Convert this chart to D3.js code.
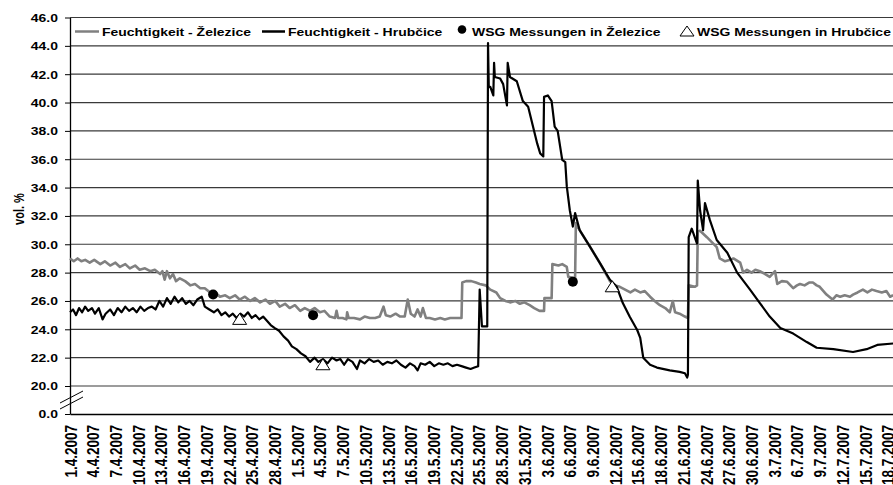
<!DOCTYPE html>
<html><head><meta charset="utf-8">
<script src="https://cdn.jsdelivr.net/npm/d3@7"></script>
<style>
html,body{margin:0;padding:0;background:#fff;}
svg{display:block;}
text{font-family:"Liberation Sans",Arial,sans-serif;font-weight:bold;fill:#000;}
</style></head>
<body>
<svg id="chart" width="893" height="485"></svg>
<script>
// ---- data (day offset from 1.4.2007, value vol.%) ----
const zelesice = [[0,29.0],[0.5,28.8],[1,29.0],[1.5,28.8],[2,28.9],[2.6,28.7],[3.2,28.9],[4,28.6],[4.6,28.8],[5.3,28.5],[6,28.7],[6.6,28.4],[7.3,28.6],[7.9,28.3],[8.6,28.5],[9.2,28.2],[9.9,28.3],[10.6,28.1],[11.2,28.2],[11.9,27.9],[12.2,28.1],[12.5,27.5],[12.8,28.1],[13.2,27.6],[13.6,27.9],[14.0,27.4],[14.5,27.6],[15.2,27.4],[15.9,27.1],[16.5,27.2],[17.2,26.9],[17.8,26.9],[18.5,26.6],[19.2,26.6],[19.8,26.3],[20.5,26.4],[21.1,26.2],[21.8,26.4],[22.4,26.1],[23.1,26.3],[23.8,26.0],[24.4,26.2],[25.1,25.9],[25.8,26.1],[26.4,25.8],[27.1,26.0],[27.7,25.6],[28.4,25.8],[29.0,25.5],[29.7,25.7],[30.4,25.3],[31.0,25.5],[31.7,25.3],[32.3,25.5],[33.0,25.2],[33.6,25.3],[34.3,24.9],[35.0,24.8],[35.2,25.3],[35.4,24.8],[36.0,24.8],[36.5,24.7],[36.6,25.2],[36.8,24.8],[37.5,24.8],[38.3,24.7],[38.9,24.9],[39.6,24.8],[40.3,24.8],[40.9,24.9],[41.4,25.6],[41.7,25.0],[42.3,24.9],[43.0,25.1],[43.6,24.9],[44.2,24.9],[44.6,26.1],[45.0,25.1],[45.5,24.9],[45.9,25.4],[46.3,24.9],[46.6,25.5],[47.0,24.8],[47.5,24.8],[48.2,24.7],[48.9,24.8],[49.5,24.7],[50.2,24.8],[50.8,24.8],[51.7,24.8],[51.8,27.3],[52.3,27.4],[53.0,27.4],[53.6,27.3],[54.1,27.2],[54.9,27.1],[55.5,26.8],[56.3,26.6],[56.8,26.2],[57.5,26.0],[58.2,25.9],[58.8,26.0],[59.4,25.8],[60.0,25.9],[60.7,25.7],[61.3,25.5],[62.0,25.3],[62.6,25.3],[62.65,26.2],[63.6,26.2],[63.7,28.6],[64.5,28.5],[65.0,28.6],[65.6,28.4],[65.8,27.7],[66.7,27.6],[66.8,31.5],[67.3,31.0],[68.7,29.8],[70.0,28.65],[71.3,27.4],[72.0,27.1],[72.6,27.0],[73.3,26.8],[74.0,26.6],[74.6,26.8],[75.3,26.6],[75.9,26.7],[76.6,26.3],[77.2,26.0],[77.9,25.7],[78.6,25.5],[79.2,25.2],[79.6,26.0],[79.9,25.2],[80.5,25.1],[81.2,24.9],[81.6,24.8],[81.7,27.1],[82.5,27.0],[82.8,27.1],[82.9,30.9],[83.2,30.95],[84.1,30.5],[85.4,29.8],[85.8,29.0],[86.5,28.8],[87.2,28.9],[87.6,29.0],[88.5,28.7],[88.9,28.0],[89.4,28.2],[90.0,28.0],[90.5,28.2],[91.1,28.1],[91.8,27.9],[92.4,27.7],[93.1,28.1],[93.4,27.2],[94.0,27.4],[94.7,27.35],[95.5,26.9],[96.0,27.1],[96.4,27.2],[97.0,27.1],[97.6,27.3],[98.1,27.3],[98.6,27.1],[99.0,27.0],[99.9,26.45],[100.7,26.1],[101.2,26.4],[101.7,26.3],[102.3,26.4],[103.0,26.3],[103.4,26.45],[104.0,26.6],[104.7,26.8],[105.3,26.6],[105.9,26.8],[106.5,26.7],[107.2,26.6],[107.8,26.7],[108.3,26.3],[108.7,26.4]];

const hrubcice = [[0,25.2],[0.4,25.4],[0.8,25.0],[1.2,25.5],[1.6,25.2],[2.0,25.6],[2.4,25.3],[2.9,25.5],[3.3,25.1],[3.8,25.5],[4.3,24.7],[4.7,25.1],[5.3,25.4],[5.8,25.0],[6.3,25.5],[6.8,25.2],[7.3,25.6],[7.8,25.3],[8.3,25.5],[8.8,25.2],[9.3,25.6],[9.8,25.3],[10.3,25.5],[10.8,25.6],[11.3,25.4],[11.8,26.0],[12.3,25.6],[12.8,26.2],[13.3,25.8],[13.8,26.3],[14.3,25.9],[14.8,26.2],[15.3,25.8],[15.8,26.0],[16.3,25.7],[16.8,26.1],[17.4,26.3],[17.8,25.6],[18.4,25.4],[19.0,25.2],[19.5,25.4],[20.0,25.0],[20.5,25.2],[21.0,24.9],[21.5,25.1],[22.0,24.8],[22.5,25.1],[23.0,24.9],[23.5,25.2],[24.0,24.8],[24.5,25.0],[25.0,24.7],[25.5,24.9],[26.0,24.6],[26.5,24.3],[27.0,24.1],[27.6,23.9],[28.2,23.5],[28.8,23.2],[29.3,22.8],[29.9,22.6],[30.5,22.3],[31.1,22.1],[31.7,21.7],[32.3,22.0],[32.8,21.7],[33.4,21.9],[34.0,21.6],[34.6,22.0],[35.2,21.8],[35.7,21.9],[36.2,21.5],[36.7,21.9],[37.3,21.7],[37.9,21.2],[38.3,21.8],[38.9,21.6],[39.5,21.9],[40.1,21.7],[40.7,21.8],[41.3,21.5],[41.9,21.7],[42.5,21.6],[43.1,21.8],[43.7,21.5],[44.3,21.3],[44.9,21.6],[45.5,21.4],[45.9,21.1],[46.3,21.6],[46.9,21.5],[47.5,21.7],[48.1,21.4],[48.7,21.6],[49.3,21.5],[49.9,21.6],[50.5,21.4],[51.1,21.5],[51.7,21.4],[52.3,21.3],[52.9,21.2],[53.4,21.3],[53.9,21.4],[54.1,26.8],[54.4,24.2],[55.1,24.2],[55.2,44.2],[55.3,41.1],[55.5,41.1],[55.9,40.5],[56.0,42.8],[56.1,41.8],[56.8,41.7],[57.2,41.3],[57.7,39.8],[57.8,42.8],[58.1,41.8],[59.0,41.5],[59.8,40.1],[60.5,39.7],[61.1,38.4],[61.7,37.1],[62.1,36.4],[62.5,36.2],[62.6,40.4],[63.1,40.5],[63.6,40.1],[64.0,38.3],[64.4,38.0],[65.0,35.95],[65.4,35.8],[65.6,34.1],[66.0,32.4],[66.4,31.25],[66.7,32.2],[67.3,31.0],[68.7,29.8],[70.0,28.65],[71.3,27.5],[72.2,27.0],[73.0,25.85],[73.9,24.9],[74.9,23.95],[75.3,23.4],[75.7,22.0],[76.6,21.5],[77.5,21.3],[79.2,21.1],[80.5,21.0],[81.2,20.9],[81.5,20.6],[81.6,20.8],[81.7,30.5],[82.1,31.1],[82.8,30.05],[82.9,34.5],[83.2,32.4],[83.6,31.0],[83.85,32.9],[84.5,31.7],[85.4,30.3],[86.8,29.4],[88.1,28.0],[89.8,26.8],[91.1,25.85],[92.4,24.9],[93.8,24.1],[95.5,23.7],[97.3,23.1],[98.6,22.7],[100.8,22.6],[103.4,22.4],[105.2,22.6],[106.6,22.9],[108.7,23.0]];

const zelMeasDays = [18.9, 32.1, 66.4];
const zelMeasVals = [26.45, 25.0, 27.35];
const hrbMeasDays = [22.4, 33.4, 71.6];
const hrbMeasVals = [24.7, 21.5, 27.0];

const yTicks = [0,20,22,24,26,28,30,32,34,36,38,40,42,44,46];
const xTickLabels = ["1.4.2007","4.4.2007","7.4.2007","10.4.2007","13.4.2007","16.4.2007","19.4.2007","22.4.2007","25.4.2007","28.4.2007","1.5.2007","4.5.2007","7.5.2007","10.5.2007","13.5.2007","16.5.2007","19.5.2007","22.5.2007","25.5.2007","28.5.2007","31.5.2007","3.6.2007","6.6.2007","9.6.2007","12.6.2007","15.6.2007","18.6.2007","21.6.2007","24.6.2007","27.6.2007","30.6.2007","3.7.2007","6.7.2007","9.7.2007","12.7.2007","15.7.2007","18.7.2007"];
const legendLabels = ["Feuchtigkeit - Železice","Feuchtigkeit - Hrubčice","WSG Messungen in Železice","WSG Messungen in Hrubčice"];

// ---- drawing ----
const SX = 1.27; // horizontal text stretch
const svg = d3.select("#chart");
const start = new Date(2007,3,1);
const dayToDate = d => new Date(start.getTime() + d*86400000);
const parse = d3.timeParse("%d.%m.%Y");

const x = d3.scaleTime().domain([start, new Date(2007,6,20)]).range([70, 903]);
const y = d3.scaleLinear().domain([0,20,46]).range([414,386,17.5]);

// gridlines
svg.append("g").selectAll("line").data(yTicks.filter(t=>t>=20)).join("line")
  .attr("x1",70).attr("x2",893).attr("y1",d=>y(d)).attr("y2",d=>y(d))
  .attr("stroke","#3a3a3a").attr("stroke-width",1.2);

// y axis
const yAxis = svg.append("g").attr("transform","translate(70,0)")
  .call(d3.axisLeft(y).tickValues(yTicks).tickSize(5).tickSizeOuter(0).tickFormat(d3.format(".1f")));
yAxis.select(".domain").attr("stroke","#000").attr("stroke-width",1.3);
yAxis.selectAll(".tick line").attr("stroke","#000");
yAxis.selectAll(".tick text").attr("x",null).attr("dy","0.35em")
  .attr("transform",`translate(-12,0) scale(${SX},1)`)
  .style("font-size","11px").attr("text-anchor","end");

// x axis
const xAxis = svg.append("g").attr("transform","translate(0,414)")
  .call(d3.axisBottom(x).tickValues(xTickLabels.map(parse)).tickSize(0).tickSizeOuter(0)
    .tickFormat((d,i)=>xTickLabels[i]));
xAxis.select(".domain").attr("stroke","#000").attr("stroke-width",1.5);
xAxis.selectAll(".tick text").attr("y",null).attr("dy","0.35em")
  .attr("transform",`translate(0,11) scale(${SX},1) rotate(-90)`)
  .style("font-size","13.5px").attr("text-anchor","end");

// axis break marks
const brk = svg.append("g").attr("stroke","#000").attr("stroke-width",1);
brk.append("line").attr("x1",60).attr("y1",403).attr("x2",83).attr("y2",391);
brk.append("line").attr("x1",60).attr("y1",409).attr("x2",83).attr("y2",397);

// y title
svg.append("g").attr("transform",`translate(24,209) scale(${SX},1) rotate(-90)`)
  .append("text").attr("text-anchor","middle").style("font-size","11px").text("vol. %");

// series
const line = d3.line().x(d=>x(dayToDate(d[0]))).y(d=>y(d[1]));
svg.append("path").datum(zelesice).attr("d",line).attr("fill","none")
  .attr("stroke","#808080").attr("stroke-width",2.6).attr("stroke-linejoin","round");
svg.append("path").datum(hrubcice).attr("d",line).attr("fill","none")
  .attr("stroke","#000").attr("stroke-width",2.2).attr("stroke-linejoin","round");

// markers
const tri = "M0,-6L7,5L-7,5Z";
svg.append("g").selectAll("circle").data(zelMeasDays).join("circle")
  .attr("cx",(d)=>x(dayToDate(d))).attr("cy",(d,i)=>y(zelMeasVals[i])).attr("r",5).attr("fill","#000");
svg.append("g").selectAll("path").data(hrbMeasDays).join("path")
  .attr("transform",(d,i)=>`translate(${x(dayToDate(d))},${y(hrbMeasVals[i])})`)
  .attr("d",tri).attr("fill","#fff").attr("stroke","#000").attr("stroke-width",1);

// legend
const lg = svg.append("g");
lg.append("line").attr("x1",75).attr("x2",99).attr("y1",31.5).attr("y2",31.5).attr("stroke","#808080").attr("stroke-width",2.5);
lg.append("line").attr("x1",262).attr("x2",285).attr("y1",31.5).attr("y2",31.5).attr("stroke","#000").attr("stroke-width",2.5);
lg.append("circle").attr("cx",462).attr("cy",29.5).attr("r",4.3).attr("fill","#000");
lg.append("path").attr("transform","translate(687,31)").attr("d","M0,-5L7,5L-7,5Z").attr("fill","#fff").attr("stroke","#000").attr("stroke-width",1);
const lx = [102, 288, 472, 697];
legendLabels.forEach((t,i)=>{
  lg.append("g").attr("transform",`translate(${lx[i]},35.5) scale(${SX},1)`)
    .append("text").style("font-size","11px").text(t);
});
</script>
</body></html>
